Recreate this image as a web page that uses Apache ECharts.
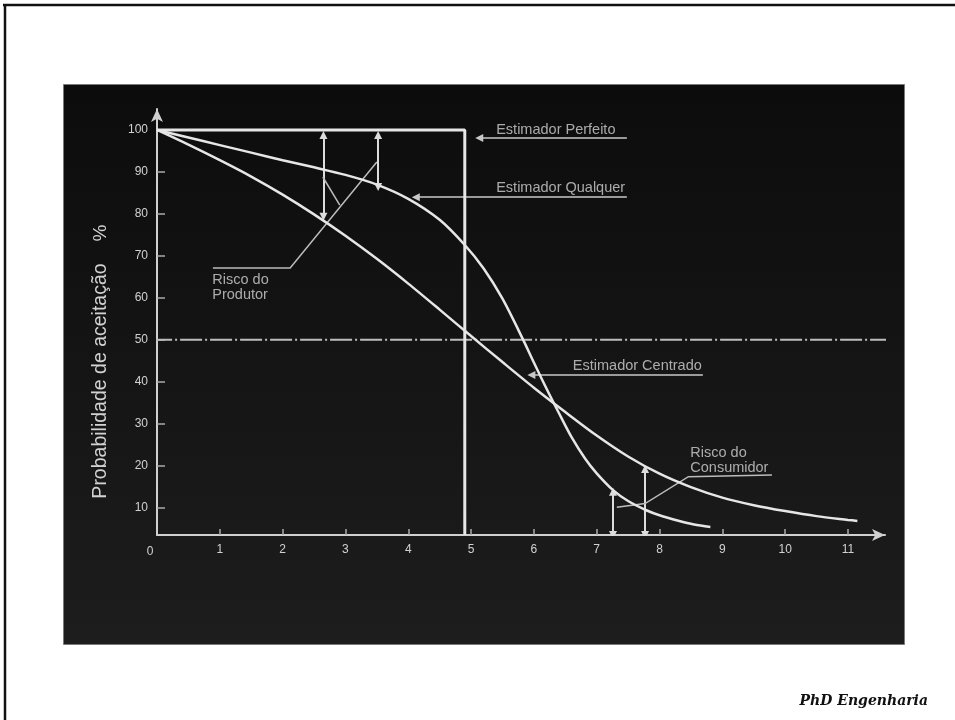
<!DOCTYPE html>
<html><head><meta charset="utf-8">
<script src="https://cdn.jsdelivr.net/npm/echarts@6/dist/echarts.min.js"></script>
<style>html,body{margin:0;padding:0;background:#fff}#c{width:955px;height:720px}</style>
</head><body><div id="c"></div>
<script>
// ---- data ----
const xTicks = [0,1,2,3,4,5,6,7,8,9,10,11];
const yTicks = [10,20,30,40,50,60,70,80,90,100];
const estimadorPerfeito = [[0,100],[4.9,100],[4.9,3.5]];
const estimadorQualquer = [[0,100],[0.5,98.2],[1.0,96.4],[1.5,94.6],[2.0,92.8],[2.5,91.1],[3.0,89.3],[3.5,87.0],[4.0,83.6],[4.5,78.6],[4.9,72.6],[5.2,67.0],[5.5,59.8],[5.83,50.0],[6.0,44.6],[6.2,38.4],[6.39,32.8],[6.6,26.8],[6.82,21.6],[7.0,18.2],[7.26,14.2],[7.5,11.6],[7.79,9.4],[8.0,8.2],[8.3,6.9],[8.55,6.0],[8.81,5.4]];
const estimadorCentrado = [[0,100],[0.5,96.5],[1.0,92.8],[1.5,88.9],[2.0,84.6],[2.5,79.9],[3.0,74.8],[3.5,69.3],[4.0,63.4],[4.5,57.2],[5.0,50.9],[5.5,44.7],[6.0,38.6],[6.5,32.8],[7.0,27.2],[7.5,22.2],[8.0,18.1],[8.5,14.9],[9.0,12.4],[9.5,10.6],[10.0,9.2],[10.5,8.0],[11.0,7.1],[11.15,6.85]];
const linha50 = [[-0.11,50],[11.9,50]];
// double arrows: [x, top, bottom]
const riscoProdutor = [[2.65,98.8,79.3],[3.52,98.8,86.4]];
const riscoConsumidor = [[7.26,13.8,3.5],[7.77,19.2,3.5]];
// pointer arrows (arrow head at first point)
const ponteiroPerfeito = [[5.13,98.1],[7.48,98.1]];
const ponteiroQualquer = [[4.12,84.0],[7.48,84.0]];
const ponteiroCentrado = [[5.96,41.6],[8.69,41.6]];
// leader lines
const guiaProdutor = [[0.89,67.1],[2.12,67.1],[3.50,92.35]];
const guiaProdutorRamo = [[2.64,88.8],[2.91,82.1]];
const guiaConsumidor = [[9.79,17.8],[8.46,17.4],[7.77,11.0],[7.32,10.1]];
// text labels: [text, x, y]
const rotuloPerfeito = ['Estimador Perfeito', 5.40, 98.3];
const rotuloQualquer = ['Estimador Qualquer', 5.40, 84.3];
const rotuloCentrado = ['Estimador Centrado', 6.62, 41.9];
const rotuloProdutor = ['Risco do\nProdutor', 0.88, 66.0];
const rotuloConsumidor = ['Risco do\nConsumidor', 8.49, 24.8];
const tituloY = 'Probabilidade de aceitação';
const rodape = 'PhD Engenharia';

// ---- chart ----
const LC = '#e6e6e6';
const TXT = '#d2d2d2';
const FONT = '"Liberation Sans", Arial, sans-serif';
const chart = echarts.init(document.getElementById('c'), null, {renderer:'canvas'});

function lbl(r, va){
  return {value:[r[1], r[2]], name:r[0], label:{show:true, position:'inside', align:'left', verticalAlign:va,
    formatter:'{b}', color:TXT, fontSize:14.5, fontFamily:FONT, lineHeight:15}};
}
function arrowPairs(arr){ return arr.map(a => ({coords:[[a[0],a[1]],[a[0],a[2]]]})); }

chart.setOption({
  backgroundColor:'#ffffff',
  animation:false,
  graphic:[
    {type:'line', z:0, shape:{x1:3,y1:5,x2:955,y2:5}, style:{stroke:'#111', lineWidth:2.5}},
    {type:'line', z:0, shape:{x1:5,y1:4,x2:5,y2:720}, style:{stroke:'#111', lineWidth:2.5}},
    {type:'rect', z:0, shape:{x:63.5,y:84.5,width:841,height:560},
      style:{fill:{type:'linear',x:0,y:0,x2:0,y2:1,colorStops:[{offset:0,color:'#0c0c0c'},{offset:1,color:'#1d1d1d'}]},
        stroke:'#7a7a7a', lineWidth:1}},
    {type:'text', z:5, x:101, y:381, rotation:Math.PI/2,
      style:{text:tituloY, fill:TXT, font:'19.5px '+FONT, align:'center', verticalAlign:'middle'}},
    {type:'text', z:5, x:101, y:233, rotation:Math.PI/2,
      style:{text:'%', fill:TXT, font:'19px '+FONT, align:'center', verticalAlign:'middle'}},
    {type:'text', z:5, x:928, y:708,
      style:{text:rodape, fill:'#111', font:'italic bold 14px "DejaVu Serif", serif', align:'right', verticalAlign:'bottom'}}
  ],
  grid:{left:157, top:109, right:70, bottom:185, containLabel:false},
  xAxis:{type:'value', min:0, max:11.59,
    axisLine:{onZero:false, lineStyle:{color:'#d0d0d0', width:2}, symbol:['none','arrow'], symbolSize:[9,13]},
    axisTick:{show:true, inside:true, length:6, lineStyle:{color:'#aaa', width:1.5}, customValues:xTicks.slice(1)},
    axisLabel:{color:TXT, fontSize:12, fontFamily:FONT, margin:9, customValues:xTicks,
      formatter:(v)=> v===0 ? '{z|0}' : String(v),
      rich:{z:{padding:[2,14,0,0], color:TXT, fontSize:12, fontFamily:FONT}}},
    splitLine:{show:false}},
  yAxis:{type:'value', min:3.5, max:105,
    axisLine:{onZero:false, lineStyle:{color:'#d0d0d0', width:2}, symbol:['none','arrow'], symbolSize:[9,13]},
    axisTick:{show:true, inside:true, length:8, lineStyle:{color:'#aaa', width:1.5}, customValues:yTicks},
    axisLabel:{color:TXT, fontSize:12, fontFamily:FONT, margin:9, customValues:yTicks},
    splitLine:{show:false}},
  series:[
    {type:'line', name:'50%', data:linha50, clip:false, symbol:'none', silent:true,
      lineStyle:{color:'#bdbdbd', width:2, type:[22,3,2,3]}},
    {type:'line', name:'Estimador Perfeito', data:estimadorPerfeito, symbol:'none', silent:true,
      lineStyle:{color:LC, width:3}},
    {type:'line', name:'Estimador Qualquer', data:estimadorQualquer, symbol:'none', smooth:0.3, silent:true,
      lineStyle:{color:LC, width:2.5}},
    {type:'line', name:'Estimador Centrado', data:estimadorCentrado, symbol:'none', smooth:0.3, silent:true,
      lineStyle:{color:LC, width:2.5}},
    {type:'lines', coordinateSystem:'cartesian2d', silent:true, symbol:['triangle','triangle'], symbolSize:8,
      lineStyle:{color:'#dcdcdc', width:2, opacity:1},
      data:arrowPairs(riscoProdutor).concat(arrowPairs(riscoConsumidor))},
    {type:'lines', coordinateSystem:'cartesian2d', silent:true, symbol:['triangle','none'], symbolSize:8,
      lineStyle:{color:'#c8c8c8', width:1.5, opacity:1},
      data:[{coords:ponteiroPerfeito},{coords:ponteiroQualquer},{coords:ponteiroCentrado}]},
    {type:'lines', coordinateSystem:'cartesian2d', polyline:true, silent:true, symbol:'none',
      lineStyle:{color:'#bcbcbc', width:1.5, opacity:1},
      data:[{coords:guiaProdutor},{coords:guiaProdutorRamo},{coords:guiaConsumidor}]},
    {type:'scatter', symbolSize:0, silent:true,
      data:[lbl(rotuloPerfeito,'bottom'), lbl(rotuloQualquer,'bottom'), lbl(rotuloCentrado,'bottom'),
            lbl(rotuloProdutor,'top'), lbl(rotuloConsumidor,'top')]}
  ]
});
</script></body></html>
